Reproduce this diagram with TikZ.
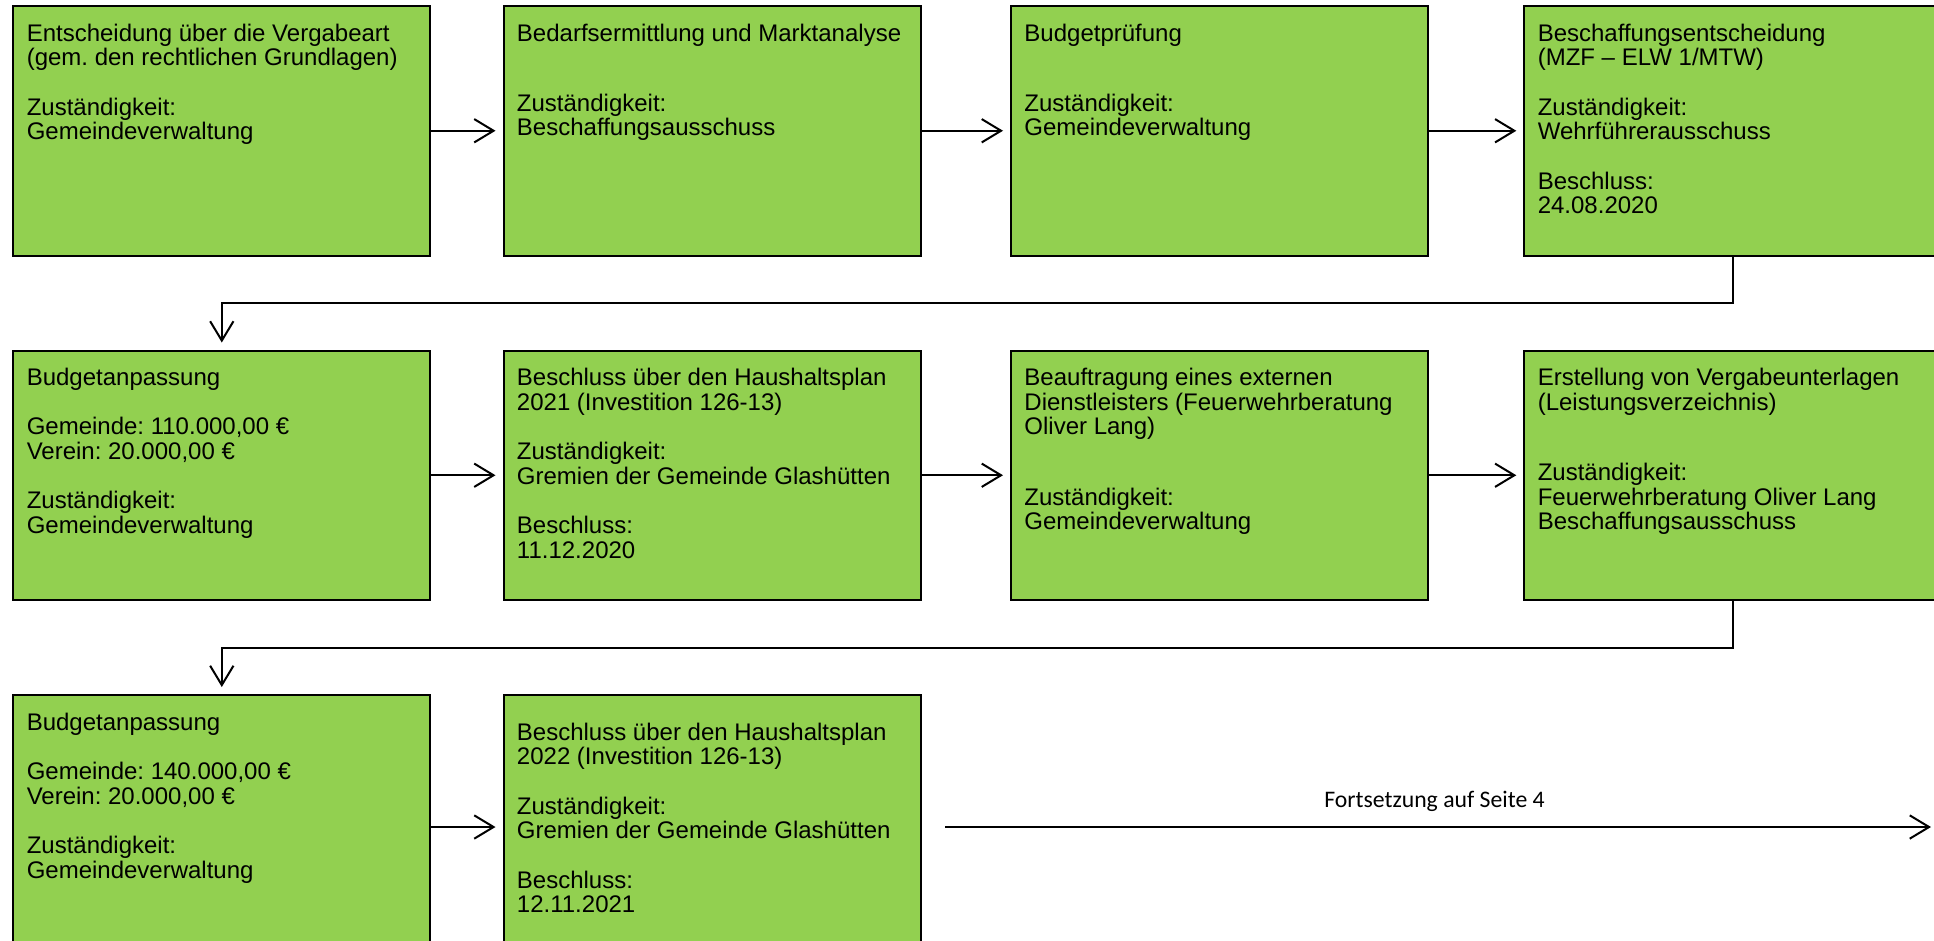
\documentclass[tikz,border=0pt]{standalone}
\usepackage{fontspec}
\setmainfont{Liberation Sans}
\newfontfamily\calib{Carlito}
\usetikzlibrary{arrows.meta}
\definecolor{boxgreen}{RGB}{146,208,80}
\begin{document}
\frenchspacing
\begin{tikzpicture}[x=0.75pt,y=-0.75pt,
  box/.style={draw=black, fill=boxgreen, line width=1.5pt, minimum width=312.75pt, minimum height=187.125pt, inner sep=0pt, outer sep=0pt},
  tallbox/.style={box, minimum height=198pt},
  txt/.style={anchor=base west, inner sep=0pt, outer sep=0pt, font=\fontsize{18pt}{18.5pt}\selectfont},
  arr/.style={line width=1.5pt, -{Straight Barb[length=14.5pt,width=17.5pt]}, shorten >=6pt},
  lbl/.style={inner sep=0pt, anchor=base, font=\calib\fontsize{17.8pt}{20pt}\selectfont}
]
\useasboundingbox (0,0) rectangle (1934,940);
\clip (0,0) rectangle (1934,940);

% boxes
\node[box] (b1)  at (221.8,130.75) {};
\node[box] (b2)  at (712,130.75) {};
\node[box] (b3)  at (1219.5,130.75) {};
\node[box] (b4)  at (1732.8,130.75) {};
\node[box] (b5)  at (221.8,475.25) {};
\node[box] (b6)  at (712,475.25) {};
\node[box] (b7)  at (1219.5,475.25) {};
\node[box] (b8)  at (1732.8,475.25) {};
\node[tallbox] (b9)  at (221.8,827) {};
\node[tallbox] (b10) at (712,827) {};

% texts
\node[txt] (t1) at ([xshift=10.1pt,yshift=-26.25pt]b1.north west) {\parbox[t]{400pt}{\raggedright
Entscheidung über die Vergabeart\\(gem. den rechtlichen Grundlagen)\\[18.5pt]Zuständigkeit:\\Gemeindeverwaltung}};
\node[txt] (t2) at ([xshift=10.1pt,yshift=-26.25pt]b2.north west) {\parbox[t]{400pt}{\raggedright
Bedarfsermittlung und Marktanalyse\\[34.2pt]Zuständigkeit:\\Beschaffungsausschuss}};
\node[txt] (t3) at ([xshift=10.1pt,yshift=-26.25pt]b3.north west) {\parbox[t]{400pt}{\raggedright
Budgetprüfung\\[34.2pt]Zuständigkeit:\\Gemeindeverwaltung}};
\node[txt] (t4) at ([xshift=10.1pt,yshift=-26.25pt]b4.north west) {\parbox[t]{400pt}{\raggedright
Beschaffungsentscheidung\\(MZF – ELW 1/MTW)\\[18.5pt]Zuständigkeit:\\Wehrführerausschuss\\[18.5pt]Beschluss:\\24.08.2020}};
\node[txt] (t5) at ([xshift=10.1pt,yshift=-26.25pt]b5.north west) {\parbox[t]{400pt}{\raggedright
Budgetanpassung\\[18.5pt]Gemeinde: 110.000,00 €\\Verein: 20.000,00 €\\[18.5pt]Zuständigkeit:\\Gemeindeverwaltung}};
\node[txt] (t6) at ([xshift=10.1pt,yshift=-26.25pt]b6.north west) {\parbox[t]{400pt}{\raggedright
Beschluss über den Haushaltsplan\\2021 (Investition 126-13)\\[18.5pt]Zuständigkeit:\\Gremien der Gemeinde Glashütten\\[18.5pt]Beschluss:\\11.12.2020}};
\node[txt] (t7) at ([xshift=10.1pt,yshift=-26.25pt]b7.north west) {\parbox[t]{400pt}{\raggedright
Beauftragung eines externen\\Dienstleisters (Feuerwehrberatung\\Oliver Lang)\\[34.2pt]Zuständigkeit:\\Gemeindeverwaltung}};
\node[txt] (t8) at ([xshift=10.1pt,yshift=-26.25pt]b8.north west) {\parbox[t]{400pt}{\raggedright
Erstellung von Vergabeunterlagen\\(Leistungsverzeichnis)\\[34.2pt]Zuständigkeit:\\Feuerwehrberatung Oliver Lang\\Beschaffungsausschuss}};
\node[txt] (t9) at ([xshift=10.1pt,yshift=-26.25pt]b9.north west) {\parbox[t]{400pt}{\raggedright
Budgetanpassung\\[18.5pt]Gemeinde: 140.000,00 €\\Verein: 20.000,00 €\\[18.5pt]Zuständigkeit:\\Gemeindeverwaltung}};
\node[txt] (t10) at ([xshift=10.1pt,yshift=-33.75pt]b10.north west) {\parbox[t]{400pt}{\raggedright
Beschluss über den Haushaltsplan\\2022 (Investition 126-13)\\[18.5pt]Zuständigkeit:\\Gremien der Gemeinde Glashütten\\[18.5pt]Beschluss:\\12.11.2021}};

% connectors
\draw[arr] (b1.east) -- (b2.west);
\draw[arr] (b2.east) -- (b3.west);
\draw[arr] (b3.east) -- (b4.west);
\draw[arr] (b4.south) -- ++(0,47.5) -| (b5.north);
\draw[arr] (b5.east) -- (b6.west);
\draw[arr] (b6.east) -- (b7.west);
\draw[arr] (b7.east) -- (b8.west);
\draw[arr] (b8.south) -- ++(0,47.5) -| (b9.north);
\draw[arr] (b9.east) -- (b10.west);

\coordinate (fs) at (945,827);
\coordinate (fe) at (1931,827);
\draw[arr, shorten >=0pt] (fs) -- node[lbl, pos=0.5, yshift=14.5pt, xshift=-2.6pt] (fl) {Fortsetzung auf Seite 4} (fe);
\end{tikzpicture}
\end{document}
